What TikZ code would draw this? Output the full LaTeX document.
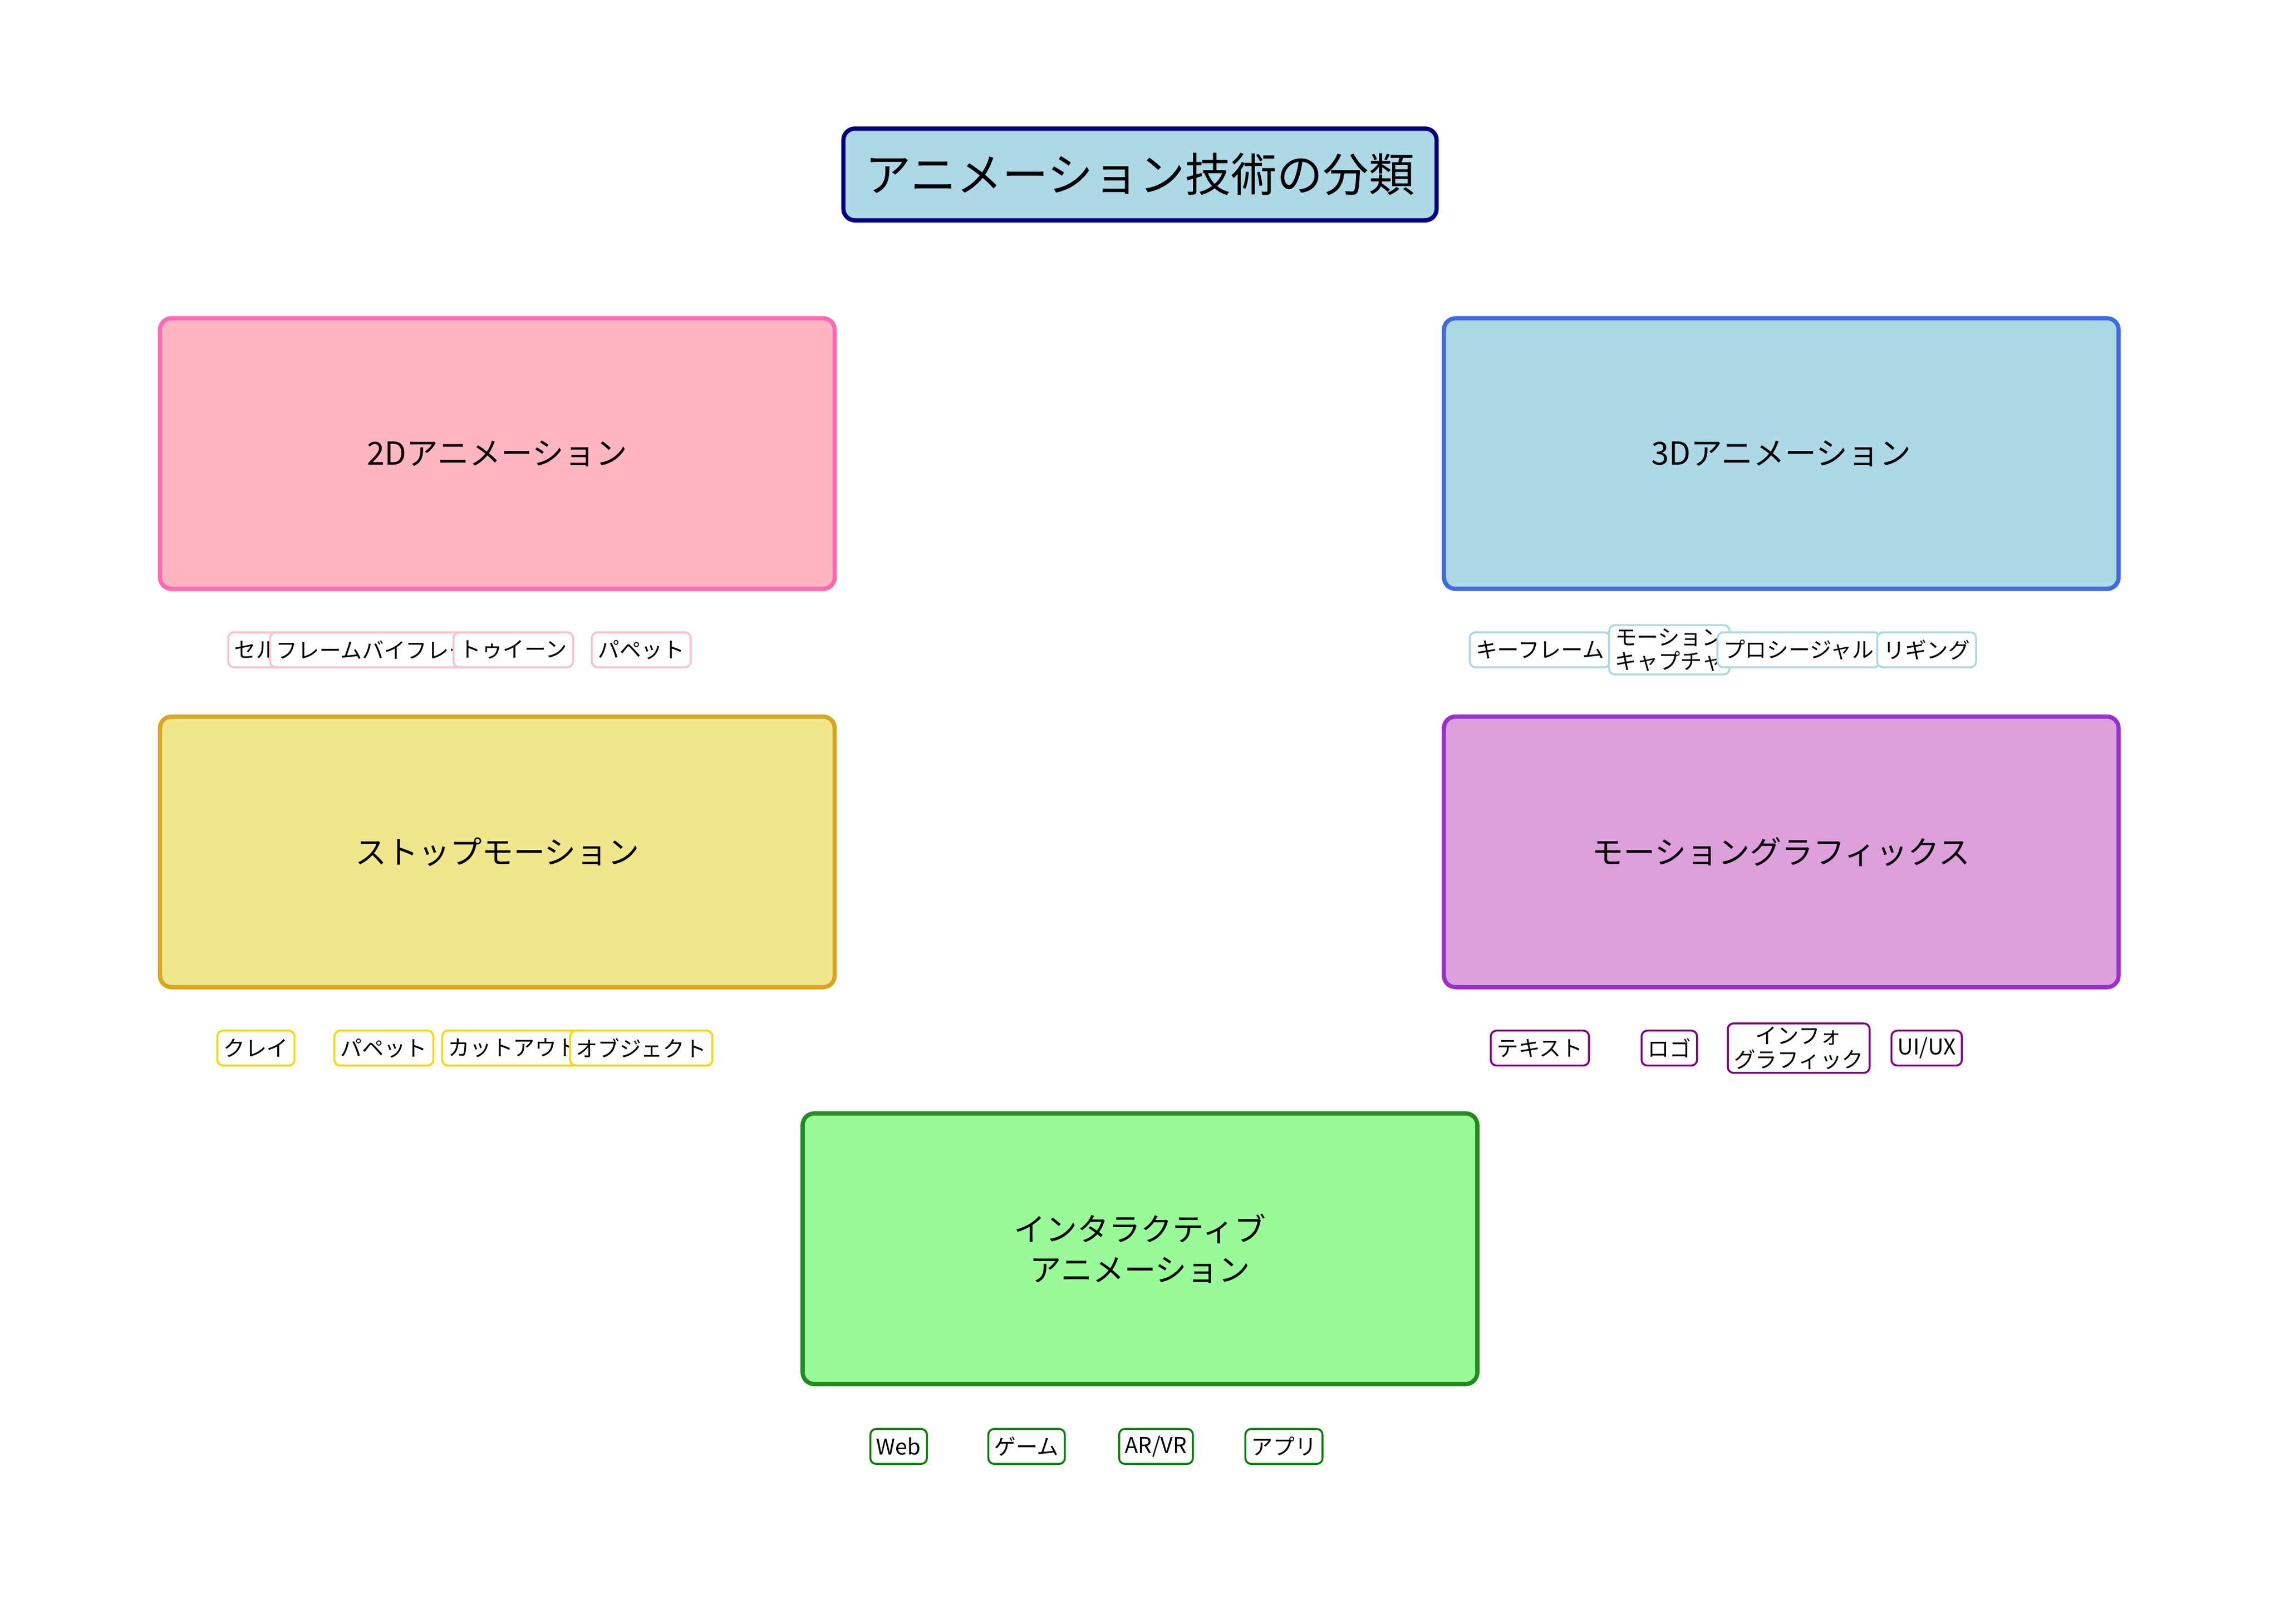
\documentclass[tikz,border=0pt]{standalone}
\usepackage{fontspec}
\setmainfont{Noto Sans CJK JP}
\usepackage{tikz}

\definecolor{pinkfill}{HTML}{FFB6C1}\definecolor{pinkline}{HTML}{FF69B4}
\definecolor{bluefill}{HTML}{ADD8E6}\definecolor{blueline}{HTML}{4169E1}
\definecolor{khakifill}{HTML}{F0E68C}\definecolor{khakiline}{HTML}{DAA520}
\definecolor{plumfill}{HTML}{DDA0DD}\definecolor{plumline}{HTML}{9932CC}
\definecolor{greenfill}{HTML}{98FB98}\definecolor{greenline}{HTML}{228B22}
\definecolor{tagpink}{HTML}{FFC0CB}\definecolor{taggold}{HTML}{FFD700}
\definecolor{tagpurple}{HTML}{800080}\definecolor{taggreen}{HTML}{008000}
\definecolor{titleline}{HTML}{000080}

\tikzset{
  category/.style={draw=#1, line width=2.2pt, rounded corners=6pt,
    minimum width=12.34cm, minimum height=4.95cm, align=center,
    font=\fontsize{16.5}{21}\selectfont},
  tag/.style={draw=#1, fill=white, line width=1pt, rounded corners=3pt,
    inner xsep=1.1mm, inner ysep=0.6mm, minimum height=0.64cm, align=center,
    font=\fontsize{11.3}{12.6}\selectfont}
}

\begin{document}
\begin{tikzpicture}[x=0.026594cm, y=-0.026594cm]
  \useasboundingbox (0,0) rectangle (1568,1116.8);
  % title
  \node[draw=titleline, fill=bluefill, line width=2.2pt, rounded corners=6pt,
    minimum width=10.85cm, minimum height=1.68cm,
    font=\fontsize{23.9}{28}\selectfont] (title) at (784,120) {アニメーション技術の分類};
  % categories
  \node[category=pinkline, fill=pinkfill]   (twod)   at (342,312) {2Dアニメーション};
  \node[category=blueline, fill=bluefill]   (threed) at (1225,312) {3Dアニメーション};
  \node[category=khakiline, fill=khakifill] (stop)   at (342,586) {ストップモーション};
  \node[category=plumline, fill=plumfill]   (motion) at (1225,586) {モーショングラフィックス};
  \node[category=greenline, fill=greenfill] (inter)  at (784,859) {インタラクティブ\\アニメーション};
  % tags
  \node[tag=tagpink] (cel)   at (176,447) {セル};
  \node[tag=tagpink] (frame) at (264,447) {フレームバイフレーム};
  \node[tag=tagpink] (tween) at (353,447) {トゥイーン};
  \node[tag=tagpink] (pup)   at (441,447) {パペット};
  \node[tag=bluefill] (key)  at (1059,447) {キーフレーム};
  \node[tag=bluefill] (mocap) at (1148,447) {モーション\\キャプチャ};
  \node[tag=bluefill] (proc) at (1237,447) {プロシージャル};
  \node[tag=bluefill] (rig)  at (1325,447) {リギング};
  \node[tag=taggold] (clay)  at (176,721) {クレイ};
  \node[tag=taggold] (spup)  at (264,721) {パペット};
  \node[tag=taggold] (cut)   at (353,721) {カットアウト};
  \node[tag=taggold] (obj)   at (441,721) {オブジェクト};
  \node[tag=tagpurple] (text) at (1059,721) {テキスト};
  \node[tag=tagpurple] (logo) at (1148,721) {ロゴ};
  \node[tag=tagpurple] (info) at (1237,721) {インフォ\\グラフィック};
  \node[tag=tagpurple] (uiux) at (1325,721) {UI/UX};
  \node[tag=taggreen] (web)  at (618,995) {Web};
  \node[tag=taggreen] (game) at (706,995) {ゲーム};
  \node[tag=taggreen] (arvr) at (795,995) {AR/VR};
  \node[tag=taggreen] (app)  at (883,995) {アプリ};
\end{tikzpicture}
\end{document}
